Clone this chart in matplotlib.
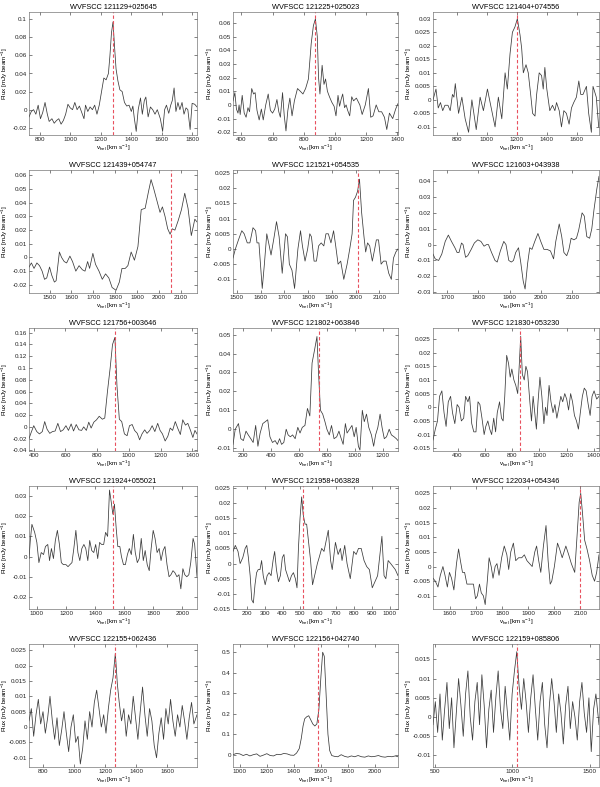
import matplotlib
matplotlib.use("Agg")
import matplotlib.pyplot as plt
from matplotlib.ticker import MultipleLocator, FuncFormatter

plt.rcParams['font.family'] = ['Liberation Sans', 'DejaVu Sans']
plt.rcParams['mathtext.default'] = 'regular'
plt.rcParams['axes.unicode_minus'] = False

# ---------------- data ----------------
titles = ["WVFSCC 121129+025645", "WVFSCC 121225+025023", "WVFSCC 121404+074556",
          "WVFSCC 121439+054747", "WVFSCC 121521+054535", "WVFSCC 121603+043938",
          "WVFSCC 121756+003646", "WVFSCC 121802+063846", "WVFSCC 121830+053230",
          "WVFSCC 121924+055021", "WVFSCC 121958+063828", "WVFSCC 122034+054346",
          "WVFSCC 122155+062436", "WVFSCC 122156+042740", "WVFSCC 122159+085806"]

vsys = [1280, 875, 1205, 2055, 2010, None, 915, 745, 860, 1525, 515, 2100, 1265, 1575, 1030]

p1_v = [730, 745, 760, 775, 790, 805, 820, 835, 850, 862, 880, 895, 910, 925, 940, 955, 970, 985, 1000, 1015,
        1030, 1045, 1060, 1075, 1090, 1100, 1115, 1130, 1145, 1160, 1175, 1190, 1205, 1220, 1235, 1250, 1260,
        1270, 1280, 1290, 1300, 1312, 1325, 1340, 1355, 1370, 1385, 1400, 1410, 1420, 1432, 1445, 1460, 1472,
        1485, 1495, 1510, 1525, 1540, 1555, 1570, 1590, 1605, 1618, 1630, 1645, 1658, 1668, 1680, 1692, 1705,
        1718, 1732, 1745, 1758, 1770, 1785, 1798, 1815, 1830]
p1_f = [-0.008, -0.002, 0.0, -0.005, 0.005, -0.010, -0.003, 0.008, -0.005, -0.013, -0.010, -0.015, -0.012,
        -0.010, -0.016, -0.012, -0.005, 0.006, 0.002, 0.0, 0.008, 0.0, 0.004, -0.003, -0.010, 0.005, -0.002,
        0.003, 0.0, 0.005, -0.005, 0.005, 0.020, 0.035, 0.033, 0.040, 0.060, 0.085, 0.097, 0.070, 0.045, 0.032,
        0.022, 0.020, 0.008, 0.004, 0.005, -0.002, 0.004, -0.010, -0.024, 0.0, 0.013, -0.005, 0.010, 0.014,
        -0.008, 0.003, 0.0, -0.005, 0.0, -0.010, -0.024, 0.0, 0.005, -0.004, 0.005, 0.010, 0.024, -0.002, 0.008,
        0.0, 0.008, -0.005, 0.002, 0.0, -0.022, 0.007, 0.006, 0.003]

p2_v = [346, 358, 368, 378, 385, 392, 405, 418, 430, 442, 452, 466, 478, 488, 500, 514, 528, 540, 556, 572,
        586, 600, 614, 628, 640, 650, 664, 675, 686, 698, 711, 725, 740, 760, 778, 795, 812, 830, 848, 862, 875,
        887, 895, 904, 918, 930, 940, 952, 965, 980, 995, 1007, 1020, 1030, 1040, 1050, 1062, 1072, 1082, 1095,
        1108, 1120, 1138, 1160, 1175, 1195, 1215, 1230, 1245, 1265, 1282, 1300, 1318, 1333, 1350, 1371, 1390, 1405]
p2_f = [0.003, 0.009, -0.003, -0.006, 0.0, -0.007, 0.007, -0.006, -0.009, -0.002, -0.005, 0.012, 0.008, 0.009,
        -0.004, -0.011, -0.003, -0.011, 0.0, 0.008, -0.004, -0.006, -0.003, 0.004, -0.005, -0.009, 0.009, -0.008,
        -0.019, -0.004, 0.005, -0.008, 0.003, 0.012, 0.010, 0.008, 0.012, 0.019, 0.045, 0.058, 0.063, 0.050,
        0.020, 0.008, 0.029, 0.015, 0.019, 0.010, 0.006, 0.002, -0.001, -0.008, 0.007, -0.001, 0.004, 0.008,
        -0.002, 0.0, -0.004, -0.008, 0.006, 0.003, 0.005, 0.0, -0.007, 0.0, 0.012, -0.009, -0.008, 0.0, -0.005,
        -0.005, -0.009, -0.018, -0.006, -0.010, -0.003, 0.001]

p3_v = [640, 660, 675, 690, 705, 720, 740, 755, 770, 780, 789, 811, 833, 855, 878, 900, 929, 955, 977, 1004,
        1022, 1055, 1077, 1100, 1122, 1137, 1155, 1171, 1188, 1204, 1222, 1233, 1244, 1262, 1277, 1293, 1306,
        1322, 1333, 1350, 1366, 1377, 1388, 1401, 1421, 1439, 1455, 1466, 1484, 1499, 1515, 1532, 1550, 1566,
        1581, 1599, 1615, 1628, 1643, 1666, 1681, 1699, 1710, 1732, 1748]
p3_f = [0.0, 0.004, -0.003, -0.001, -0.004, -0.002, -0.002, -0.004, 0.002, 0.001, 0.006, -0.005, 0.001, -0.007,
        -0.012, 0.0, -0.011, 0.001, -0.004, 0.004, -0.001, -0.010, 0.001, -0.007, 0.010, 0.004, 0.017, 0.025,
        0.027, 0.030, 0.024, 0.019, 0.010, 0.013, 0.010, 0.002, -0.005, -0.006, 0.002, 0.010, 0.009, 0.004, 0.012,
        0.004, -0.004, -0.002, -0.004, -0.001, -0.004, -0.010, -0.004, -0.005, -0.009, -0.003, -0.001, 0.001,
        0.007, 0.002, 0.002, 0.005, -0.005, -0.012, 0.005, 0.001, -0.010]

p4_v = [1406, 1417, 1429, 1442, 1454, 1466, 1477, 1487, 1500, 1510, 1522, 1530, 1545, 1555, 1567, 1578, 1593,
        1605, 1620, 1635, 1650, 1662, 1674, 1683, 1698, 1710, 1726, 1741, 1756, 1771, 1786, 1804, 1819, 1831,
        1846, 1858, 1873, 1888, 1904, 1919, 1937, 1952, 1964, 1975, 1990, 2005, 2016, 2028, 2040, 2051, 2061,
        2073, 2088, 2103, 2118, 2133, 2148, 2164, 2174]
p4_f = [-0.007, -0.004, -0.008, -0.004, -0.006, -0.010, -0.016, -0.015, -0.007, -0.013, -0.018, -0.017, 0.004,
        0.0, -0.003, -0.004, 0.001, -0.003, -0.010, -0.006, -0.009, -0.010, -0.003, -0.008, 0.003, -0.005,
        -0.010, -0.016, -0.012, -0.015, -0.022, -0.024, -0.018, -0.008, -0.008, -0.006, 0.004, -0.002, 0.008,
        0.035, 0.036, 0.048, 0.057, 0.051, 0.042, 0.033, 0.037, 0.030, 0.021, 0.017, 0.021, 0.020, 0.027, 0.035,
        0.047, 0.036, 0.016, 0.028, 0.026]

p5_v = [1484, 1494, 1507, 1521, 1531, 1544, 1555, 1568, 1579, 1585, 1593, 1607, 1616, 1626, 1634, 1644, 1657,
        1667, 1678, 1691, 1705, 1713, 1721, 1732, 1743, 1757, 1768, 1776, 1787, 1798, 1807, 1814, 1825, 1835,
        1844, 1855, 1866, 1875, 1885, 1896, 1907, 1916, 1926, 1937, 1950, 1964, 1975, 1985, 1991, 1999, 2008,
        2016, 2025, 2035, 2042, 2050, 2059, 2070, 2080, 2087, 2096, 2107, 2117, 2128, 2139, 2150, 2159, 2169, 2178]
p5_f = [-0.003, 0.0, 0.003, 0.006, 0.005, 0.002, 0.002, 0.007, 0.006, 0.002, 0.002, -0.013, -0.005, 0.005,
        0.002, -0.002, 0.004, 0.009, 0.004, -0.008, 0.005, 0.004, -0.005, -0.007, -0.013, 0.0, 0.006, 0.001,
        -0.004, 0.0, 0.005, 0.004, -0.004, -0.004, 0.001, 0.002, 0.001, 0.005, 0.005, 0.002, 0.006, 0.001, -0.005,
        -0.004, -0.010, -0.005, 0.0, 0.005, 0.016, 0.017, 0.019, 0.023, 0.012, 0.004, -0.001, 0.002, 0.001,
        -0.004, 0.0, 0.003, 0.003, -0.005, -0.004, -0.004, -0.008, -0.010, -0.003, -0.001, 0.0]

p6_v = [1655, 1662, 1673, 1683, 1694, 1704, 1714, 1725, 1732, 1738, 1746, 1751, 1759, 1766, 1777, 1787, 1798,
        1808, 1818, 1826, 1832, 1842, 1853, 1860, 1870, 1881, 1888, 1897, 1905, 1912, 1919, 1928, 1935, 1943,
        1949, 1957, 1964, 1971, 1980, 1990, 1999, 2009, 2019, 2030, 2040, 2047, 2058, 2066, 2073, 2082, 2089,
        2096, 2105, 2113, 2120, 2131, 2138, 2146, 2155, 2162, 2169, 2178, 2185]
p6_f = [-0.006, -0.009, -0.010, -0.006, 0.002, 0.006, 0.002, -0.002, -0.005, -0.005, 0.001, 0.0, -0.008,
        -0.007, -0.003, 0.001, 0.003, 0.002, -0.001, 0.0, 0.0, -0.005, -0.010, -0.011, -0.004, 0.002, 0.0,
        -0.010, -0.011, -0.010, -0.005, -0.002, -0.011, -0.023, -0.028, -0.012, -0.002, -0.003, 0.002, 0.007,
        0.002, -0.003, -0.003, -0.004, -0.009, 0.002, 0.013, 0.005, -0.005, -0.007, -0.003, 0.004, 0.003, 0.004,
        0.009, 0.020, 0.018, 0.005, 0.004, 0.010, 0.022, 0.035, 0.043]

p7_v = [370, 383, 400, 419, 436, 454, 469, 484, 501, 518, 535, 552, 569, 586, 603, 619, 636, 651, 668, 685, 702,
        715, 732, 747, 762, 779, 796, 813, 833, 848, 865, 882, 897, 912, 925, 940, 955, 972, 989, 1004, 1021,
        1036, 1053, 1068, 1083, 1100, 1115, 1132, 1147, 1164, 1182, 1197, 1212, 1229, 1246, 1261, 1276, 1293,
        1308, 1325, 1340, 1357, 1372, 1389, 1404, 1417, 1430]
p7_f = [-0.020, -0.010, 0.002, -0.008, -0.012, -0.008, 0.009, -0.004, -0.011, -0.008, -0.007, 0.006, -0.008,
        -0.005, 0.002, -0.006, 0.005, -0.007, 0.004, -0.005, -0.006, 0.0, -0.006, 0.008, -0.002, 0.008, 0.012,
        0.018, 0.013, 0.015, 0.060, 0.100, 0.140, 0.152, 0.070, 0.013, 0.009, -0.012, -0.015, 0.002, 0.004,
        -0.006, -0.011, -0.022, -0.012, -0.005, -0.011, -0.006, 0.002, -0.008, 0.006, -0.006, -0.012, -0.024,
        -0.016, -0.002, -0.006, 0.009, -0.002, -0.013, 0.012, 0.003, 0.006, -0.006, -0.018, -0.006, -0.012]

p8_v = [131, 147, 170, 187, 205, 224, 240, 258, 275, 293, 309, 325, 344, 362, 379, 395, 413, 432, 448, 464, 478,
        494, 511, 525, 541, 557, 575, 594, 610, 626, 645, 663, 680, 696, 714, 731, 742, 756, 772, 788, 802, 819,
        835, 853, 872, 888, 900, 918, 934, 946, 964, 981, 997, 1011, 1027, 1038, 1055, 1069, 1085, 1101, 1120,
        1136, 1150, 1166, 1182, 1196, 1212, 1228, 1247, 1263, 1282, 1298, 1310]
p8_f = [-0.008, 0.0, 0.003, -0.005, -0.006, -0.001, -0.003, -0.005, -0.007, 0.002, -0.009, -0.002, 0.003,
        0.004, 0.005, -0.004, -0.007, -0.006, -0.008, -0.005, -0.008, -0.007, 0.0, -0.003, -0.004, -0.003,
        -0.005, 0.001, -0.002, 0.001, 0.002, 0.011, 0.007, 0.035, 0.042, 0.049, 0.030, 0.010, 0.008, 0.004, 0.0,
        -0.003, 0.002, -0.005, -0.004, -0.001, -0.004, -0.008, 0.003, -0.002, 0.0, 0.002, -0.004, 0.001, -0.009,
        -0.011, 0.010, 0.004, 0.008, 0.001, -0.003, -0.009, -0.003, 0.001, 0.008, 0.001, -0.005, -0.004, 0.0,
        -0.003, -0.004, -0.005, -0.006]

p9_v = [220, 237, 253, 268, 285, 301, 316, 332, 349, 363, 380, 397, 411, 428, 445, 459, 476, 488, 504, 519, 535,
        550, 564, 579, 595, 607, 622, 636, 650, 665, 679, 691, 708, 722, 734, 746, 760, 774, 786, 798, 813, 827,
        841, 853, 863, 875, 889, 901, 913, 930, 942, 954, 966, 978, 990, 1004, 1018, 1033, 1045, 1056, 1071,
        1085, 1100, 1114, 1128, 1143, 1157, 1171, 1186, 1200, 1214, 1229, 1243, 1257, 1272, 1286, 1300, 1315,
        1329, 1343, 1358, 1372, 1386, 1401, 1420, 1437]
p9_f = [-0.012, -0.008, -0.005, 0.004, 0.006, -0.002, -0.007, 0.002, 0.004, -0.002, -0.006, 0.001, 0.0,
        -0.005, -0.004, 0.004, 0.002, 0.004, -0.006, -0.009, -0.009, 0.002, 0.001, -0.004, -0.010, -0.007,
        -0.005, -0.008, -0.010, -0.004, -0.009, -0.002, 0.002, -0.004, -0.005, 0.004, 0.019, 0.016, 0.011,
        0.014, 0.010, 0.008, 0.005, 0.016, 0.026, 0.012, 0.010, 0.015, 0.013, 0.002, -0.005, 0.004, -0.002,
        -0.008, 0.002, 0.011, 0.004, -0.006, 0.0, -0.003, 0.008, 0.002, -0.002, 0.001, -0.004, 0.0, 0.004,
        0.002, 0.005, 0.003, -0.001, 0.005, 0.002, -0.003, -0.005, -0.008, -0.002, 0.004, 0.007, 0.006, 0.001,
        -0.003, 0.004, 0.006, 0.003, 0.004]

p10_v = [946, 955, 966, 985, 1000, 1014, 1030, 1046, 1059, 1075, 1087, 1100, 1114, 1127, 1141, 1155, 1168,
         1182, 1200, 1214, 1227, 1241, 1254, 1268, 1282, 1295, 1309, 1323, 1336, 1350, 1363, 1377, 1391, 1404,
         1418, 1431, 1445, 1459, 1472, 1486, 1499, 1511, 1522, 1533, 1545, 1556, 1570, 1581, 1595, 1608, 1622,
         1635, 1649, 1663, 1676, 1690, 1703, 1717, 1731, 1744, 1758, 1772, 1785, 1799, 1812, 1826, 1840, 1853,
         1867, 1880, 1894, 1908, 1921, 1935, 1948, 1962, 1976, 1989, 2003, 2016, 2030, 2044, 2057, 2073, 2084,
         2100]
p10_f = [-0.001, 0.008, 0.016, 0.012, 0.007, -0.003, 0.002, 0.001, 0.005, 0.006, -0.002, 0.004, -0.001,
         0.008, 0.013, 0.006, -0.003, -0.004, -0.004, -0.005, -0.004, -0.003, 0.004, 0.013, 0.002, -0.002,
         0.004, 0.006, 0.004, -0.002, 0.008, 0.003, 0.002, 0.006, -0.001, 0.007, 0.006, 0.006, 0.012, 0.010,
         0.033, 0.027, 0.021, 0.026, 0.014, 0.005, 0.005, 0.0, -0.004, -0.004, 0.001, 0.004, 0.001, 0.011,
         0.002, -0.003, -0.001, 0.009, -0.002, 0.003, -0.004, -0.007, 0.004, 0.013, 0.009, 0.002, 0.004,
         -0.002, 0.003, 0.005, -0.004, -0.010, -0.009, -0.007, -0.008, -0.010, -0.009, -0.016, -0.006, -0.009,
         -0.010, -0.009, -0.003, 0.009, 0.006, -0.010]

p11_v = [123, 136, 151, 163, 178, 191, 200, 209, 219, 228, 237, 246, 255, 264, 274, 283, 292, 303, 314, 325,
         336, 347, 356, 366, 377, 388, 399, 408, 417, 428, 439, 450, 461, 472, 481, 489, 498, 507, 516, 526,
         535, 546, 557, 568, 595, 605, 619, 632, 656, 669, 678, 696, 711, 724, 733, 748, 761, 779, 798, 812, 825,
         840, 856, 871, 886, 902, 917, 932, 956, 968, 978, 991, 1005, 1018, 1031, 1046]
p11_f = [0.004, 0.006, 0.004, 0.0, 0.002, 0.005, 0.006, 0.002, -0.004, -0.012, -0.013, -0.007, -0.003, -0.002,
         -0.002, 0.001, -0.004, -0.007, -0.004, -0.003, -0.004, 0.001, 0.004, -0.002, -0.006, -0.004, 0.002,
         0.003, -0.002, -0.004, -0.006, -0.004, -0.003, -0.005, -0.008, 0.005, 0.015, 0.022, 0.016, 0.013,
         0.013, 0.007, 0.001, -0.007, 0.0, 0.002, 0.005, 0.004, 0.011, 0.001, -0.002, 0.007, 0.003, 0.005,
         0.001, 0.006, 0.0, -0.005, 0.004, 0.003, 0.005, 0.005, 0.001, -0.001, -0.002, -0.008, -0.006, -0.004,
         0.009, -0.004, -0.005, 0.001, 0.0, -0.001, -0.002, -0.004]

p12_v = [1535, 1544, 1554, 1563, 1573, 1581, 1590, 1598, 1606, 1615, 1625, 1633, 1640, 1648, 1656, 1665, 1673,
         1681, 1690, 1698, 1705, 1713, 1720, 1728, 1735, 1743, 1750, 1758, 1765, 1773, 1780, 1788, 1798, 1808,
         1818, 1825, 1833, 1843, 1852, 1863, 1875, 1885, 1895, 1905, 1915, 1925, 1932, 1940, 1948, 1958, 1968,
         1976, 1984, 1990, 2000, 2012, 2020, 2030, 2044, 2055, 2065, 2078, 2088, 2095, 2101, 2108, 2116, 2125,
         2135, 2145, 2154, 2162, 2171]
p12_f = [-0.004, -0.005, -0.007, -0.003, 0.0, -0.003, -0.007, -0.002, -0.004, -0.008, 0.001, 0.006, 0.002,
         -0.002, -0.002, -0.006, -0.006, -0.006, -0.006, -0.011, -0.010, -0.006, -0.009, -0.010, -0.013, -0.005,
         0.003, 0.0, -0.004, 0.0, 0.001, -0.003, 0.003, 0.007, 0.004, -0.001, 0.005, 0.008, 0.002, 0.003, 0.003,
         0.004, 0.002, 0.001, 0.0, 0.005, 0.007, 0.002, -0.002, 0.007, 0.014, 0.002, -0.006, -0.005, 0.0, 0.008,
         0.006, 0.003, 0.007, 0.004, 0.001, -0.002, 0.012, 0.022, 0.025, 0.018, 0.009, 0.006, 0.002, -0.003,
         -0.005, -0.002, 0.004]

p13_v = [710, 725, 740, 755, 770, 785, 800, 815, 830, 845, 860, 875, 890, 905, 920, 935, 950, 965, 980, 995,
         1010, 1025, 1040, 1055, 1070, 1085, 1100, 1115, 1130, 1145, 1160, 1175, 1190, 1205, 1220, 1235, 1250,
         1265, 1278, 1290, 1305, 1320, 1335, 1350, 1365, 1380, 1395, 1410, 1425, 1440, 1455, 1470, 1485, 1500,
         1515, 1530, 1545, 1560, 1575, 1590, 1605, 1620, 1635, 1650, 1665, 1680, 1695, 1710, 1725, 1740, 1755,
         1770, 1790]
p13_f = [0.002, 0.006, -0.003, 0.004, 0.009, 0.001, 0.005, -0.002, 0.003, 0.010, 0.002, -0.004, 0.003, -0.006,
         -0.001, 0.005, -0.002, -0.008, 0.0, 0.004, -0.005, -0.003, -0.012, -0.007, 0.002, -0.004, 0.005, 0.0,
         0.008, 0.012, 0.006, 0.0, 0.004, -0.002, 0.006, 0.012, 0.016, 0.024, 0.014, 0.008, 0.002, 0.006, -0.003,
         0.004, 0.001, 0.010, 0.003, -0.004, 0.005, 0.013, 0.004, -0.003, 0.006, 0.002, -0.006, -0.010, -0.002,
         0.003, -0.004, 0.006, 0.001, 0.009, 0.002, -0.003, 0.004, 0.0, 0.007, 0.002, -0.004, 0.003, 0.008,
         0.001, 0.004]

p14_v = [950, 975, 1000, 1025, 1050, 1075, 1100, 1125, 1150, 1175, 1200, 1225, 1250, 1275, 1300, 1325, 1350,
         1375, 1400, 1420, 1440, 1455, 1468, 1480, 1495, 1510, 1525, 1540, 1555, 1570, 1585, 1600, 1613, 1625,
         1638, 1652, 1665, 1680, 1700, 1725, 1750, 1775, 1800, 1825, 1850, 1875, 1900, 1925, 1950, 1975, 2000,
         2025, 2050, 2075, 2100, 2125, 2150, 2170]
p14_f = [0.0, 0.006, 0.004, -0.004, 0.002, -0.006, 0.0, 0.004, -0.008, -0.002, 0.005, -0.004, -0.006, 0.002,
         0.0, 0.006, 0.004, -0.002, -0.003, 0.008, 0.03, 0.08, 0.14, 0.175, 0.185, 0.19, 0.17, 0.15, 0.14, 0.15,
         0.22, 0.38, 0.50, 0.48, 0.30, 0.10, 0.02, -0.004, -0.008, -0.01, 0.0, -0.008, -0.012, -0.006, -0.01,
         -0.004, -0.01, -0.012, -0.006, -0.01, -0.008, -0.004, -0.01, -0.012, -0.008, -0.01, -0.006, -0.01]

p15_v = [490, 505, 520, 535, 550, 565, 580, 595, 610, 625, 640, 655, 670, 685, 700, 715, 730, 745, 760, 775,
         790, 805, 820, 835, 850, 865, 880, 895, 910, 925, 940, 955, 970, 985, 1000, 1015, 1030, 1045, 1060,
         1075, 1090, 1105, 1120, 1135, 1150, 1165, 1180, 1195, 1210, 1225, 1240, 1255, 1270, 1285, 1300, 1315,
         1330, 1345, 1360, 1375, 1390, 1405, 1420, 1435, 1450, 1465, 1480, 1495, 1510, 1525, 1540, 1560]
p15_f = [-0.002, 0.004, -0.004, 0.006, -0.006, 0.002, 0.009, -0.003, 0.005, -0.008, 0.001, 0.010, 0.003,
         -0.005, 0.006, 0.012, 0.0, -0.006, 0.004, 0.009, -0.002, 0.011, 0.003, -0.008, 0.002, 0.007, -0.004,
         0.005, 0.012, 0.002, -0.003, 0.008, 0.001, -0.006, 0.006, 0.012, 0.017, 0.008, 0.002, 0.010, 0.004,
         -0.004, 0.005, 0.011, 0.002, -0.006, 0.004, 0.009, -0.002, -0.008, 0.003, 0.010, 0.004, -0.004, 0.006,
         0.001, -0.007, 0.003, 0.008, -0.003, 0.004, 0.0, -0.006, 0.004, 0.009, 0.001, -0.004, 0.005, -0.009,
         0.002, 0.006, -0.002]

# ---------------- layout / style per panel ----------------
xlims = [(730, 1830), (346, 1405), (640, 1750), (1406, 2174), (1484, 2178), (1655, 2185),
         (370, 1430), (131, 1310), (220, 1437), (946, 2100), (123, 1046), (1535, 2171),
         (710, 1790), (950, 2170), (490, 1560)]
ylims = [(-0.028, 0.108), (-0.022, 0.068), (-0.013, 0.0325), (-0.026, 0.064), (-0.0145, 0.026),
         (-0.0305, 0.047), (-0.041, 0.168), (-0.0115, 0.0535), (-0.016, 0.029), (-0.026, 0.035),
         (-0.015, 0.0256), (-0.0145, 0.0275), (-0.013, 0.027), (-0.06, 0.54), (-0.013, 0.019)]
xsteps = [200, 200, 200, 100, 100, 100, 200, 200, 200, 200, 100, 100, 200, 200, 500]
ysteps = [0.02, 0.01, 0.005, 0.01, 0.005, 0.01, 0.02, 0.01, 0.005, 0.01, 0.005, 0.005, 0.005, 0.1, 0.005]

series = [(p1_v, p1_f), (p2_v, p2_f), (p3_v, p3_f), (p4_v, p4_f), (p5_v, p5_f), (p6_v, p6_f),
          (p7_v, p7_f), (p8_v, p8_f), (p9_v, p9_f), (p10_v, p10_f), (p11_v, p11_f), (p12_v, p12_f),
          (p13_v, p13_f), (p14_v, p14_f), (p15_v, p15_f)]

W, H = 600, 787
fig = plt.figure(figsize=(W / 100, H / 100), dpi=100)

col_left = [29, 233, 433]
col_w = [168, 165, 166]
row_top = [12, 170, 328, 486, 644]
row_h = 123

fmt = FuncFormatter(lambda v, p: ('%g' % round(v, 6)))

for i in range(15):
    r, c = divmod(i, 3)
    ax = fig.add_axes([col_left[c] / W, 1 - (row_top[r] + row_h) / H, col_w[c] / W, row_h / H])
    v, f = series[i]
    ax.plot(v, f, color='#3a3a3a', lw=0.55)
    if vsys[i] is not None:
        ax.axvline(vsys[i], color='#e8505e', lw=0.8, ls=(0, (3, 2)))
    ax.set_xlim(*xlims[i])
    ax.set_ylim(*ylims[i])
    ax.xaxis.set_major_locator(MultipleLocator(xsteps[i]))
    ax.yaxis.set_major_locator(MultipleLocator(ysteps[i]))
    ax.yaxis.set_major_formatter(fmt)
    ax.xaxis.set_major_formatter(fmt)
    ax.tick_params(direction='in', top=True, right=True, length=2, width=0.4,
                   labelsize=4.5, pad=1.5, colors='#222222')
    for s in ax.spines.values():
        s.set_linewidth(0.4)
        s.set_color('#555555')
    ax.set_title(titles[i], fontsize=5.3, pad=2.5)
    ax.set_xlabel(r'v$_{hel}$ [km s$^{-1}$]', fontsize=4.5, labelpad=0.5)
    ax.set_ylabel(r'Flux [mJy beam$^{-1}$]', fontsize=4.5)
    ax.yaxis.set_label_coords(-0.112, 0.5)

fig.savefig('out.png', dpi=100)
